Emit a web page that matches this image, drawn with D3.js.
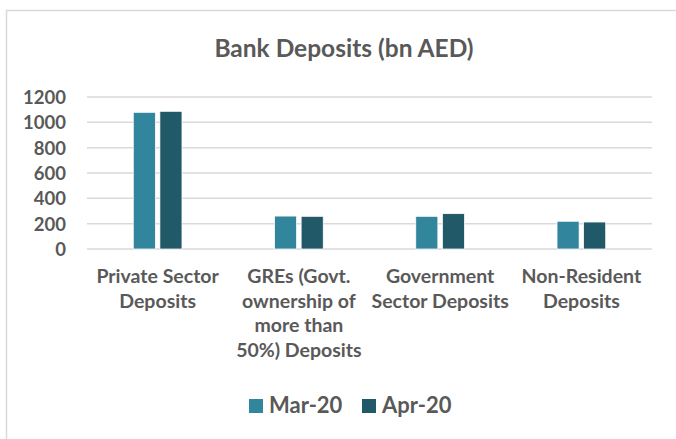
<!DOCTYPE html>
<html><head><meta charset="utf-8">
<script src="https://cdn.jsdelivr.net/npm/d3@7"></script>
<style>body{margin:0;background:#fff}svg{display:block}text{font-family:Lato,"Open Sans",sans-serif;font-weight:bold;fill:#595959}</style>
</head><body>
<svg id="c" width="676" height="439"></svg>
<script>
const title = "Bank Deposits (bn AED)";
const categoryLines = [
  ["Private Sector", "Deposits"],
  ["GREs (Govt.", "ownership of", "more than", "50%) Deposits"],
  ["Government", "Sector Deposits"],
  ["Non-Resident", "Deposits"]
];
const categories = categoryLines.map(l => l.join(" "));
const series = ["Mar-20", "Apr-20"];
const mar20 = [1079, 260, 258, 219];
const apr20 = [1087, 258, 279, 213];
const yTicks = [0, 200, 400, 600, 800, 1000, 1200];
const colors = ["#31859C", "#215968"];

const svg = d3.select("#c");
svg.append("rect").attr("x", 6.5).attr("y", 10.5).attr("width", 700).attr("height", 500)
  .attr("fill", "none").attr("stroke", "#D9D9D9").attr("stroke-width", 1.5);

svg.append("text").attr("x", 344).attr("y", 57).attr("text-anchor", "middle")
  .style("font-size", "24.5px").text(title);

const x0 = d3.scaleBand().domain(categories).range([87, 652]);
const gw = 48.7;
const x1 = d3.scaleBand().domain(series)
  .range([(x0.bandwidth() - gw) / 2, (x0.bandwidth() + gw) / 2]).paddingInner(0.17);
const y = d3.scaleLinear().domain([0, 1200]).range([249, 97]);

svg.append("g").selectAll("line").data(yTicks).join("line")
  .attr("x1", 87).attr("x2", 652).attr("y1", d => y(d)).attr("y2", d => y(d))
  .attr("stroke", "#D9D9D9").attr("stroke-width", 1.5);

const yAxis = d3.axisLeft(y).tickValues(yTicks).tickFormat(d3.format("d")).tickSize(0).tickPadding(0);
const ya = svg.append("g").attr("transform", "translate(66,0)").call(yAxis);
ya.select(".domain").remove();
ya.selectAll("text").style("font-size", "18.5px").attr("font-family", null).attr("fill", "#595959").attr("dy", "0.35em");

const data = categories.map((c, i) => ({c, vals: [mar20[i], apr20[i]]}));
const g = svg.append("g").selectAll("g").data(data).join("g")
  .attr("transform", d => `translate(${x0(d.c)},0)`);
g.selectAll("rect").data(d => d.vals.map((v, j) => ({s: series[j], v, j}))).join("rect")
  .attr("x", d => x1(d.s)).attr("width", x1.bandwidth())
  .attr("y", d => y(d.v)).attr("height", d => y(0) - y(d.v))
  .attr("fill", d => colors[d.j]).attr("stroke", "#fff").attr("stroke-width", 0.75);

const xa = svg.append("g");
data.forEach((d, i) => {
  const t = xa.append("text").attr("text-anchor", "middle")
    .attr("x", x0(d.c) + x0.bandwidth() / 2).attr("y", 283).style("font-size", "19.5px");
  categoryLines[i].forEach((ln, k) => {
    t.append("tspan").attr("x", x0(d.c) + x0.bandwidth() / 2).attr("y", 283 + k * 24.5).text(ln);
  });
});

const legX = [249, 362];
const lg = svg.append("g").selectAll("g").data(series).join("g")
  .attr("transform", (d, i) => `translate(${legX[i]},0)`);
lg.append("rect").attr("x", 0).attr("y", 399).attr("width", 14).attr("height", 14)
  .attr("fill", (d, i) => colors[i]);
lg.append("text").attr("x", 20).attr("y", 413).style("font-size", "22px").text(d => d);
</script>
</body></html>
